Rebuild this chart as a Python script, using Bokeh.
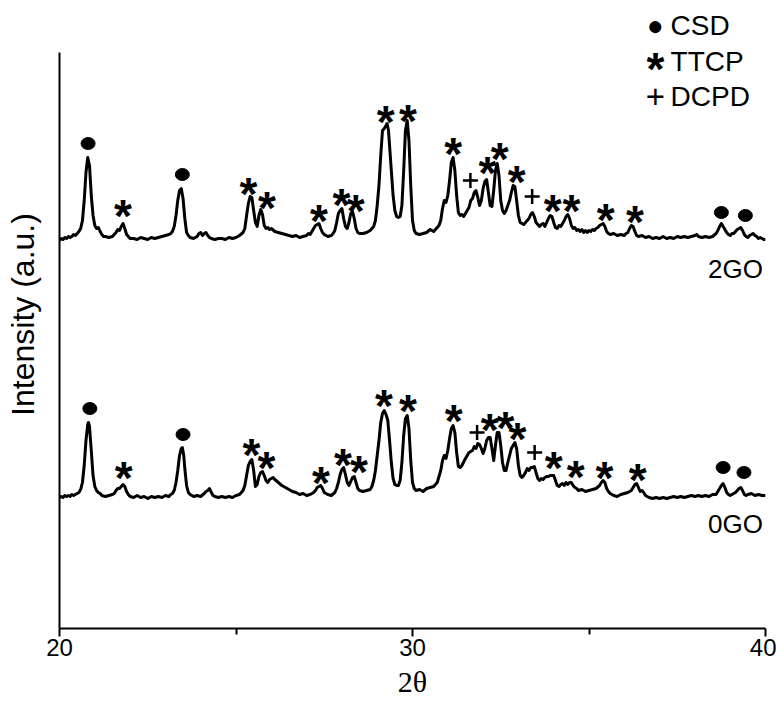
from bokeh.plotting import figure
from bokeh.models import Range1d, FixedTicker, Label
from bokeh.core.properties import value
from bokeh.embed import file_html
from bokeh.resources import INLINE

# ---- diffraction patterns (2theta in degrees, intensity in a.u.) ----
two_theta_2go = [
    20.00, 20.05, 20.10, 20.15, 20.20, 20.25, 20.30, 20.35, 20.40, 20.45, 20.50, 20.55, 20.60, 20.65, 20.70,
    20.75, 20.80, 20.85, 20.90, 20.95, 21.00, 21.05, 21.10, 21.15, 21.20, 21.25, 21.30, 21.40, 21.50, 21.55,
    21.60, 21.65, 21.70, 21.75, 21.80, 21.85, 21.90, 21.95, 22.00, 22.10, 22.20, 22.30, 22.40, 22.50, 22.60,
    22.70, 22.80, 22.90, 23.00, 23.10, 23.15, 23.20, 23.25, 23.30, 23.35, 23.40, 23.45, 23.50, 23.55, 23.60,
    23.65, 23.70, 23.80, 23.90, 23.95, 24.00, 24.05, 24.10, 24.15, 24.20, 24.25, 24.30, 24.40, 24.50, 24.60,
    24.70, 24.80, 24.90, 25.00, 25.10, 25.20, 25.25, 25.30, 25.35, 25.40, 25.45, 25.50, 25.55, 25.60, 25.65,
    25.70, 25.75, 25.80, 25.85, 25.90, 25.95, 26.00, 26.10, 26.20, 26.30, 26.40, 26.50, 26.60, 26.70, 26.80,
    26.90, 27.00, 27.05, 27.10, 27.15, 27.20, 27.25, 27.30, 27.35, 27.40, 27.45, 27.50, 27.60, 27.70, 27.75,
    27.80, 27.85, 27.90, 27.95, 28.00, 28.05, 28.10, 28.15, 28.20, 28.25, 28.30, 28.35, 28.40, 28.45, 28.50,
    28.60, 28.70, 28.80, 28.90, 28.95, 29.00, 29.05, 29.10, 29.15, 29.20, 29.25, 29.28, 29.32, 29.35, 29.40,
    29.45, 29.50, 29.55, 29.60, 29.65, 29.70, 29.75, 29.80, 29.85, 29.90, 29.95, 30.00, 30.05, 30.10, 30.20,
    30.30, 30.40, 30.50, 30.60, 30.70, 30.75, 30.80, 30.85, 30.90, 30.95, 31.00, 31.05, 31.10, 31.15, 31.20,
    31.25, 31.30, 31.35, 31.40, 31.45, 31.50, 31.55, 31.60, 31.65, 31.70, 31.75, 31.80, 31.85, 31.90, 31.95,
    32.00, 32.05, 32.10, 32.15, 32.20, 32.25, 32.30, 32.35, 32.40, 32.45, 32.50, 32.55, 32.60, 32.65, 32.70,
    32.75, 32.80, 32.85, 32.90, 32.95, 33.00, 33.05, 33.10, 33.15, 33.20, 33.25, 33.30, 33.35, 33.40, 33.45,
    33.50, 33.55, 33.60, 33.65, 33.70, 33.75, 33.80, 33.85, 33.90, 33.95, 34.00, 34.05, 34.10, 34.15, 34.20,
    34.25, 34.30, 34.35, 34.40, 34.45, 34.50, 34.55, 34.60, 34.65, 34.70, 34.75, 34.80, 34.85, 34.90, 34.95,
    35.00, 35.05, 35.10, 35.15, 35.20, 35.25, 35.30, 35.35, 35.40, 35.45, 35.50, 35.55, 35.60, 35.70, 35.80,
    35.90, 36.00, 36.05, 36.10, 36.15, 36.20, 36.25, 36.30, 36.35, 36.40, 36.50, 36.60, 36.70, 36.80, 36.90,
    37.00, 37.10, 37.20, 37.30, 37.40, 37.50, 37.60, 37.70, 37.80, 37.90, 38.00, 38.05, 38.10, 38.20, 38.30,
    38.40, 38.50, 38.60, 38.65, 38.70, 38.75, 38.80, 38.85, 38.90, 38.95, 39.00, 39.05, 39.10, 39.15, 39.20,
    39.25, 39.30, 39.35, 39.40, 39.45, 39.50, 39.55, 39.60, 39.65, 39.70, 39.75, 39.80, 39.85, 39.90, 39.95,
    40.00,
]
intensity_2go = [
    131, 133, 132, 134, 133, 135, 134, 135, 137, 136, 138, 140, 143, 151, 171,
    199, 214, 206, 176, 156, 146, 143, 144, 140, 137, 135, 135, 134, 135, 137,
    139, 142, 141, 145, 148, 143, 137, 135, 133, 133, 132, 134, 133, 132, 134,
    133, 134, 135, 136, 137, 138, 140, 145, 156, 171, 181, 183, 173, 153, 139,
    136, 134, 133, 135, 138, 139, 136, 138, 139, 136, 134, 133, 132, 133, 133,
    132, 134, 133, 134, 136, 139, 143, 156, 168, 175, 174, 161, 149, 145, 156,
    162, 157, 146, 143, 144, 142, 143, 140, 139, 138, 137, 136, 135, 136, 134,
    135, 136, 138, 137, 140, 143, 146, 147, 148, 143, 139, 137, 135, 136, 138,
    141, 149, 158, 161, 163, 153, 145, 143, 149, 158, 160, 153, 143, 139, 138,
    138, 139, 141, 145, 151, 166, 186, 216, 241, 243, 246, 248, 241, 226, 201,
    176, 161, 155, 154, 155, 166, 201, 241, 251, 231, 186, 151, 141, 138, 137,
    138, 139, 142, 140, 144, 146, 151, 163, 171, 169, 176, 191, 209, 214, 201,
    176, 159, 156, 157, 155, 158, 161, 164, 171, 173, 179, 181, 174, 166, 171,
    183, 190, 192, 179, 166, 165, 181, 201, 208, 196, 171, 161, 158, 161, 166,
    171, 179, 186, 185, 171, 156, 149, 148, 147, 149, 151, 153, 157, 159, 155,
    149, 147, 145, 147, 148, 145, 149, 153, 156, 155, 149, 144, 143, 146, 145,
    148, 151, 155, 157, 153, 146, 143, 144, 141, 142, 140, 142, 139, 141, 139,
    141, 140, 142, 141, 143, 144, 146, 147, 148, 145, 140, 138, 137, 138, 136,
    137, 136, 138, 139, 143, 146, 145, 140, 136, 135, 136, 134, 135, 133, 134,
    133, 135, 133, 134, 133, 135, 134, 135, 134, 135, 136, 137, 135, 134, 135,
    134, 135, 138, 141, 145, 148, 145, 142, 139, 137, 136, 138, 138, 140, 142,
    143, 144, 141, 137, 135, 134, 136, 137, 138, 136, 135, 133, 134, 133, 132,
    132,
]

two_theta_0go = [
    20.00, 20.05, 20.10, 20.15, 20.20, 20.25, 20.30, 20.35, 20.40, 20.45, 20.50, 20.55, 20.60, 20.65, 20.70,
    20.75, 20.80, 20.82, 20.85, 20.90, 20.95, 21.00, 21.05, 21.10, 21.15, 21.20, 21.30, 21.40, 21.50, 21.55,
    21.60, 21.65, 21.70, 21.75, 21.80, 21.85, 21.90, 21.95, 22.00, 22.10, 22.20, 22.30, 22.40, 22.50, 22.60,
    22.70, 22.80, 22.90, 23.00, 23.10, 23.15, 23.20, 23.25, 23.30, 23.35, 23.40, 23.45, 23.48, 23.52, 23.55,
    23.60, 23.65, 23.70, 23.80, 23.90, 24.00, 24.10, 24.15, 24.20, 24.25, 24.30, 24.35, 24.40, 24.50, 24.60,
    24.70, 24.80, 24.90, 25.00, 25.10, 25.20, 25.25, 25.30, 25.35, 25.40, 25.45, 25.50, 25.55, 25.60, 25.65,
    25.70, 25.75, 25.80, 25.85, 25.90, 25.95, 26.00, 26.05, 26.10, 26.20, 26.30, 26.40, 26.50, 26.60, 26.70,
    26.80, 26.90, 27.00, 27.10, 27.20, 27.25, 27.30, 27.35, 27.40, 27.45, 27.50, 27.60, 27.70, 27.80, 27.85,
    27.90, 27.95, 28.00, 28.05, 28.10, 28.15, 28.20, 28.25, 28.30, 28.35, 28.40, 28.45, 28.50, 28.60, 28.70,
    28.80, 28.85, 28.90, 28.95, 29.00, 29.05, 29.10, 29.15, 29.20, 29.25, 29.30, 29.35, 29.40, 29.45, 29.50,
    29.55, 29.60, 29.65, 29.70, 29.75, 29.80, 29.85, 29.90, 29.95, 30.00, 30.05, 30.10, 30.20, 30.30, 30.40,
    30.50, 30.60, 30.70, 30.80, 30.85, 30.90, 30.95, 31.00, 31.05, 31.10, 31.15, 31.20, 31.25, 31.30, 31.35,
    31.40, 31.50, 31.60, 31.70, 31.75, 31.80, 31.85, 31.90, 31.95, 32.00, 32.05, 32.10, 32.15, 32.20, 32.25,
    32.30, 32.35, 32.40, 32.45, 32.50, 32.55, 32.60, 32.65, 32.70, 32.75, 32.80, 32.85, 32.90, 32.95, 33.00,
    33.05, 33.10, 33.15, 33.20, 33.25, 33.30, 33.35, 33.40, 33.45, 33.50, 33.55, 33.60, 33.65, 33.70, 33.75,
    33.80, 33.85, 33.90, 33.95, 34.00, 34.05, 34.10, 34.15, 34.20, 34.25, 34.30, 34.35, 34.40, 34.45, 34.50,
    34.55, 34.60, 34.65, 34.70, 34.80, 34.90, 35.00, 35.10, 35.20, 35.30, 35.35, 35.40, 35.45, 35.50, 35.55,
    35.60, 35.70, 35.80, 35.90, 36.00, 36.10, 36.20, 36.25, 36.30, 36.35, 36.40, 36.45, 36.50, 36.55, 36.60,
    36.70, 36.80, 36.90, 37.00, 37.10, 37.20, 37.30, 37.40, 37.50, 37.60, 37.70, 37.80, 37.90, 38.00, 38.10,
    38.20, 38.30, 38.40, 38.50, 38.60, 38.65, 38.70, 38.75, 38.80, 38.85, 38.90, 38.95, 39.00, 39.10, 39.15,
    39.20, 39.25, 39.30, 39.35, 39.40, 39.45, 39.50, 39.60, 39.65, 39.70, 39.80, 39.90, 40.00,
]
intensity_0go = [
    131, 132, 131, 133, 132, 133, 132, 134, 133, 134, 135, 136, 139, 146, 163,
    188, 204, 206, 202, 178, 153, 142, 138, 136, 135, 133, 132, 133, 134, 135,
    138, 140, 140, 142, 144, 142, 137, 134, 132, 131, 133, 131, 132, 130, 132,
    131, 132, 131, 133, 132, 134, 135, 138, 146, 158, 173, 180, 181, 173, 160,
    143, 136, 134, 132, 133, 132, 135, 137, 138, 140, 136, 133, 132, 131, 132,
    131, 132, 131, 133, 134, 138, 143, 153, 163, 167, 169, 158, 142, 144, 152,
    156, 157, 153, 148, 146, 149, 150, 151, 149, 146, 143, 141, 139, 137, 136,
    134, 135, 133, 134, 136, 138, 141, 142, 143, 140, 136, 134, 133, 136, 140,
    146, 154, 159, 161, 154, 146, 143, 147, 151, 152, 146, 140, 138, 137, 138,
    139, 142, 148, 158, 173, 188, 206, 215, 218, 214, 208, 188, 166, 150, 144,
    143, 143, 148, 166, 193, 210, 213, 200, 168, 146, 140, 138, 139, 137, 140,
    141, 142, 146, 158, 168, 173, 170, 178, 190, 200, 203, 196, 176, 162, 161,
    163, 170, 176, 178, 182, 180, 185, 184, 180, 175, 180, 188, 191, 191, 180,
    168, 183, 196, 196, 183, 166, 158, 158, 166, 173, 180, 183, 186, 180, 163,
    153, 151, 153, 156, 160, 158, 161, 161, 162, 156, 150, 148, 150, 149, 151,
    152, 152, 153, 153, 153, 148, 143, 142, 144, 145, 143, 146, 144, 146, 146,
    143, 141, 140, 138, 139, 137, 138, 139, 140, 143, 146, 148, 146, 140, 137,
    135, 133, 132, 134, 135, 136, 138, 141, 144, 145, 141, 137, 138, 136, 133,
    131, 130, 131, 130, 131, 130, 131, 132, 131, 132, 131, 132, 133, 132, 133,
    132, 133, 132, 134, 134, 137, 140, 143, 145, 141, 136, 134, 133, 135, 136,
    138, 140, 141, 138, 134, 133, 134, 135, 134, 133, 134, 133, 133,
]

# vertical shift used to stack the 2GO pattern above 0GO
offset_2go = 257

# ---- phase identification marks: (2theta, intensity level of the mark) ----
csd_2go_tt = [20.81, 23.48, 38.75, 39.43]
csd_2go_i = [228, 197, 159, 156]
ttcp_2go_tt = [21.80, 25.35, 25.88, 27.35, 27.99, 28.39, 29.24, 29.87, 31.15, 32.12, 32.47, 32.95,
               33.97, 34.50, 35.47, 36.30]
ttcp_2go_i = [163, 185, 171, 158, 174, 168, 257, 258, 225, 206, 220, 197, 168, 168, 159, 157]
dcpd_2go_tt = [31.64, 33.39]
dcpd_2go_i = [191, 175]

csd_0go_tt = [20.86, 23.50, 38.80, 39.39]
csd_0go_i = [220, 194, 161, 156]
ttcp_0go_tt = [21.82, 25.44, 25.86, 27.41, 28.03, 28.48, 29.19, 29.87, 31.17, 32.19, 32.63, 32.97,
               34.00, 34.62, 35.44, 36.38]
ttcp_0go_i = [158, 181, 168, 153, 171, 164, 230, 225, 215, 206, 208, 197, 168, 159, 158, 156]
dcpd_0go_tt = [31.83, 33.46]
dcpd_0go_i = [196, 176]

sample_names = ["2GO", "0GO"]
phase_names = ["CSD", "TTCP", "DCPD"]

FONT = "Liberation Sans"
STAR_SIZE = "46px"

p = figure(
    width=776, height=707,
    x_range=Range1d(20, 40), y_range=Range1d(0, 628),
    output_backend="svg", toolbar_location=None,
    min_border_left=59, min_border_right=11, min_border_top=0, min_border_bottom=79,
)
p.outline_line_color = None
p.xgrid.visible = False
p.ygrid.visible = False
p.background_fill_color = "white"
p.border_fill_color = "white"

# x axis
xa = p.xaxis[0]
xa.ticker = FixedTicker(ticks=[20, 30, 40], minor_ticks=[25, 35])
xa.axis_line_width = 2
xa.major_tick_line_width = 2
xa.minor_tick_line_width = 2
xa.major_tick_in = 0
xa.major_tick_out = 8
xa.minor_tick_in = 0
xa.minor_tick_out = 6
xa.major_label_text_font = FONT
xa.major_label_text_font_size = "24px"
xa.major_label_text_color = "black"
xa.major_label_standoff = 2
xa.axis_label = "2θ"
xa.axis_label_text_font = "Liberation Serif"
xa.axis_label_text_font_style = "normal"
xa.axis_label_text_font_size = "30px"
xa.axis_label_text_color = "black"
xa.axis_label_standoff = 6

# y axis: plain line (stopping below the legend) with a title
ya = p.yaxis[0]
ya.ticker = FixedTicker(ticks=[])
ya.bounds = (0, 576)
ya.axis_line_width = 2
ya.major_tick_out = 0
ya.major_tick_in = 0
ya.minor_tick_out = 0
ya.minor_tick_in = 0
ya.axis_label = "Intensity (a.u.)"
ya.axis_label_text_font = FONT
ya.axis_label_text_font_style = "normal"
ya.axis_label_text_font_size = "32px"
ya.axis_label_text_color = "black"
ya.axis_label_standoff = 19

# patterns
p.line(two_theta_2go, [v + offset_2go for v in intensity_2go],
       line_color="black", line_width=3, line_join="round")
p.line(two_theta_0go, intensity_0go, line_color="black", line_width=3, line_join="round")


def draw_marks(csd_tt, csd_i, ttcp_tt, ttcp_i, dcpd_tt, dcpd_i, shift):
    p.ellipse(x=csd_tt, y=[v + shift for v in csd_i], width=14, height=12,
              width_units="screen", height_units="screen", fill_color="black", line_color="black")
    p.text(x=ttcp_tt, y=[v + shift for v in ttcp_i], text=["*"] * len(ttcp_tt),
           text_font=value(FONT), text_font_style="bold", text_font_size=STAR_SIZE,
           text_align="center", text_baseline="alphabetic", y_offset=7, text_color="black")
    p.scatter(x=dcpd_tt, y=[v + shift for v in dcpd_i], marker="cross", size=15,
              line_width=2.5, line_color="black")


draw_marks(csd_2go_tt, csd_2go_i, ttcp_2go_tt, ttcp_2go_i, dcpd_2go_tt, dcpd_2go_i, offset_2go)
draw_marks(csd_0go_tt, csd_0go_i, ttcp_0go_tt, ttcp_0go_i, dcpd_0go_tt, dcpd_0go_i, 0)

# sample names
for name, yv in zip(sample_names, [360, 105]):
    p.add_layout(Label(x=39.15, y=yv, text=name, text_font=FONT, text_font_size="26px",
                       text_align="center", text_baseline="middle", text_color="black"))

# legend of phase symbols
legend_rows = [603, 567, 532]
p.add_layout(Label(x=36.88, y=legend_rows[0], text="●", text_font=FONT, text_font_size="28px",
                   text_align="center", text_baseline="middle", text_color="black"))
p.add_layout(Label(x=36.88, y=legend_rows[1] - 7, text="*", text_font=FONT, text_font_style="bold",
                   text_font_size=STAR_SIZE, text_align="center", text_baseline="alphabetic",
                   text_color="black"))
p.add_layout(Label(x=36.88, y=legend_rows[2], text="+", text_font=FONT, text_font_size="33px",
                   text_align="center", text_baseline="middle", text_color="black"))
for name, yv in zip(phase_names, legend_rows):
    p.add_layout(Label(x=37.31, y=yv, text=name, text_font=FONT, text_font_size="28px",
                       text_align="left", text_baseline="middle", text_color="black"))

open("out.html", "w").write(file_html(p, INLINE))
